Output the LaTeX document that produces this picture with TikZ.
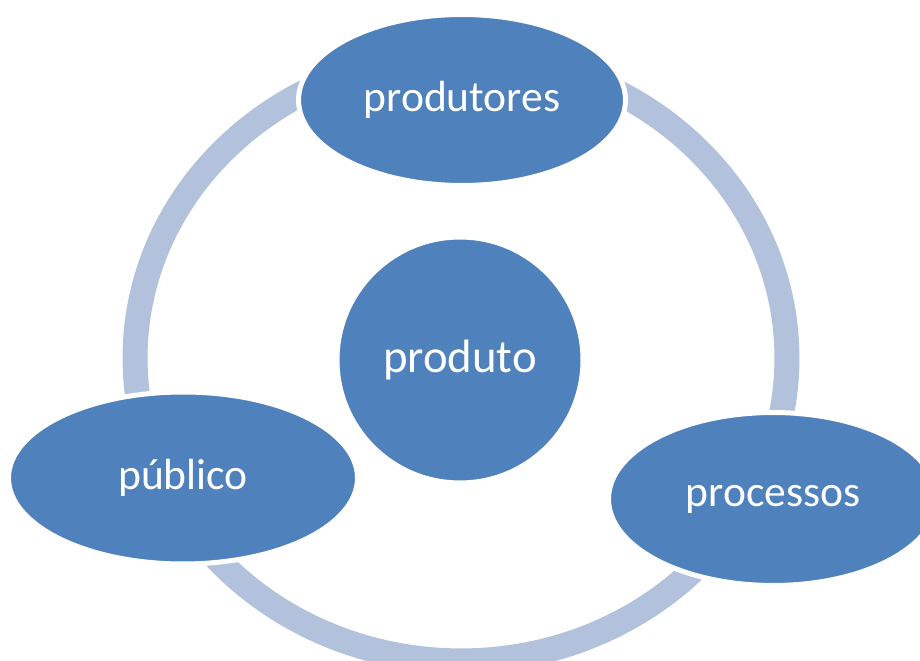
\documentclass[tikz,border=0pt]{standalone}
\usepackage{fontspec}
\setmainfont{Carlito}
\usetikzlibrary{shapes,
	positioning}
\definecolor{accent}{HTML}{4F81BD}
\definecolor{ringblue}{HTML}{B2C1DC}

\begin{document}
\begin{tikzpicture}[x=0.02cm, y=-0.02cm,
                    bubble/.style={fill=accent, draw=white, line width=0.1cm, ellipse, inner sep=0pt,
                                   text=white, font=\fontsize{24.8}{29}\selectfont},
                    ring/.style={draw=ringblue, line width=0.5cm}]
                            \clip (0,0) rectangle (920,661);
                            % cycle ring behind the bubbles
                            \draw[ring] (461,358) ellipse [x radius=6.52cm, y radius=6.06cm];
                            \node (produto) [bubble, circle, minimum size=4.92cm, font=\fontsize{26.6}{31}\selectfont] at (460,360) {produto};
                            \node (produtores) [bubble, minimum width=6.54cm, minimum height=3.42cm] at (462,100) {produtores};
                            \node (publico) [bubble, minimum width=6.98cm, minimum height=3.44cm] at (183,478) {público};
                            \node (processos) [bubble, minimum width=6.58cm, minimum height=3.46cm] at (773,499) {processos};
                        \end{tikzpicture}
\end{document}
